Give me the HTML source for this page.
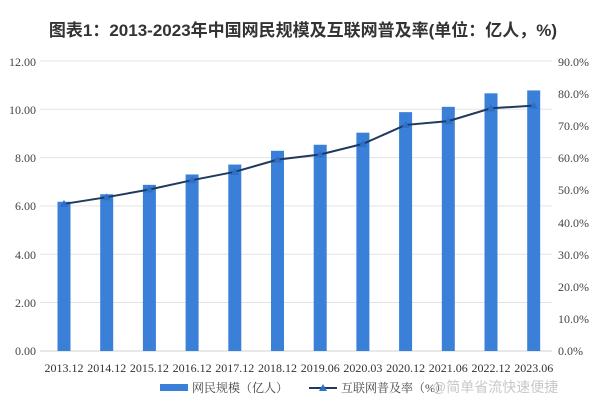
<!DOCTYPE html>
<html><head><meta charset="utf-8"><style>
body{margin:0;background:#fff;}
svg text{font-family:"Liberation Serif","Noto Serif CJK SC",serif;}
</style></head><body>
<svg width="607" height="411" viewBox="0 0 607 411" xmlns="http://www.w3.org/2000/svg">
<rect width="607" height="411" fill="#fff"/>
<text x="303" y="36" text-anchor="middle" font-size="17" font-weight="bold" fill="#333" style="font-family:'Liberation Sans','Noto Sans CJK SC',sans-serif">图表1：2013-2023年中国网民规模及互联网普及率(单位：亿人，%)</text>
<g stroke="#e3e3e3" stroke-width="1">
<line x1="40" x2="552" y1="61" y2="61"/><line x1="40" x2="552" y1="109.3" y2="109.3"/>
<line x1="40" x2="552" y1="157.6" y2="157.6"/><line x1="40" x2="552" y1="205.9" y2="205.9"/>
<line x1="40" x2="552" y1="254.2" y2="254.2"/><line x1="40" x2="552" y1="302.5" y2="302.5"/>
</g>
<line x1="40" x2="552" y1="351" y2="351" stroke="#d0d0d0"/>
<g font-size="12" fill="#444" text-anchor="end">
<text x="36" y="66">12.00</text><text x="36" y="114">10.00</text><text x="36" y="162">8.00</text>
<text x="36" y="210">6.00</text><text x="36" y="259">4.00</text><text x="36" y="307">2.00</text><text x="36" y="355">0.00</text>
</g>
<g font-size="12" fill="#444" text-anchor="start">
<text x="558" y="66">90.0%</text><text x="558" y="98">80.0%</text><text x="558" y="130">70.0%</text>
<text x="558" y="162">60.0%</text><text x="558" y="194">50.0%</text><text x="558" y="227">40.0%</text>
<text x="558" y="259">30.0%</text><text x="558" y="291">20.0%</text><text x="558" y="323">10.0%</text><text x="558" y="355">0.0%</text>
</g>
<g fill="#3a7fd8" id="bars"></g>
<polyline id="ln" fill="none" stroke="#1f3a5f" stroke-width="2"/>
<g id="mk" fill="#2e6fc9"></g>
<g id="xl" font-size="12" fill="#333" text-anchor="middle"></g>
<rect x="160" y="384" width="28" height="7" fill="#3a7fd8"/>
<text x="192" y="392" font-size="12" fill="#444">网民规模（亿人）</text>
<line x1="309" x2="337" y1="388" y2="388" stroke="#1f3a5f" stroke-width="2"/>
<polygon points="323,384 327,391 319,391" fill="#2e6fc9"/>
<text x="341" y="392" font-size="12" fill="#444">互联网普及率（%）</text>
<text x="432" y="392" font-size="14" fill="#c8c8c8" style="font-family:'Liberation Sans','Noto Sans CJK SC',sans-serif">@简单省流快速便捷</text>
</svg>
<script>
var v=[6.18,6.49,6.88,7.31,7.72,8.29,8.54,9.04,9.89,10.11,10.67,10.79];
var r=[45.8,47.9,50.3,53.2,55.8,59.6,61.2,64.5,70.4,71.6,75.6,76.4];
var l=["2013.12","2014.12","2015.12","2016.12","2017.12","2018.12","2019.06","2020.03","2020.12","2021.06","2022.12","2023.06"];
var ns="http://www.w3.org/2000/svg",b=document.getElementById("bars"),m=document.getElementById("mk"),x=document.getElementById("xl"),pts=[];
for(var i=0;i<12;i++){var c=64+i*42.7,h=v[i]*24.15;
var e=document.createElementNS(ns,"rect");e.setAttribute("x",c-6.5);e.setAttribute("y",351-h);e.setAttribute("width",13);e.setAttribute("height",h);b.appendChild(e);
var y=351-r[i]*3.2111;pts.push(c+","+y);
var p=document.createElementNS(ns,"polygon");p.setAttribute("points",c+","+(y-4)+" "+(c+4)+","+(y+3)+" "+(c-4)+","+(y+3));m.appendChild(p);
var t=document.createElementNS(ns,"text");t.setAttribute("x",c);t.setAttribute("y",372);t.textContent=l[i];x.appendChild(t);}
document.getElementById("ln").setAttribute("points",pts.join(" "));
</script>
</body></html>
